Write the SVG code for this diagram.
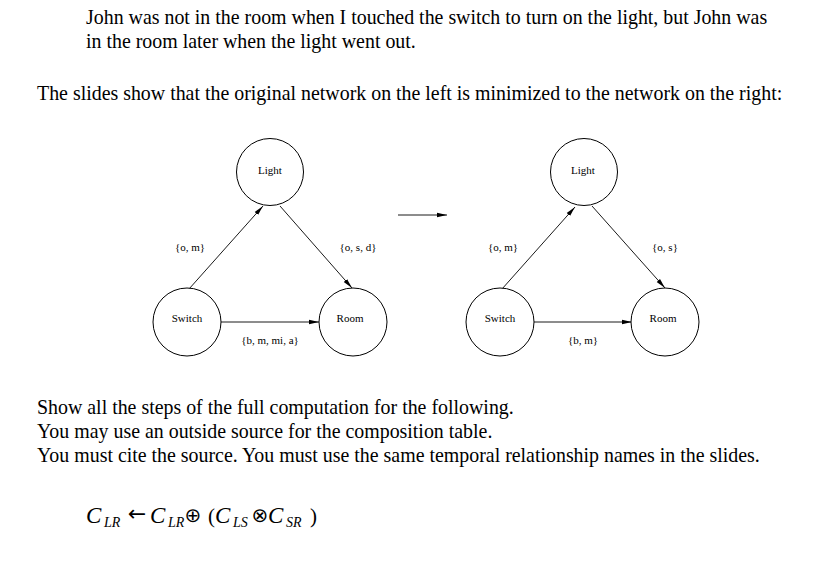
<svg xmlns="http://www.w3.org/2000/svg" width="816" height="575" viewBox="0 0 816 575">
<style>
.t{font-family:"Liberation Serif","Times New Roman",serif;font-size:19.9px;fill:#000}
.n{font-family:"Liberation Serif","Times New Roman",serif;font-size:11px;fill:#000;text-anchor:middle}
.c{fill:#fff;stroke:#000;stroke-width:1}
.e{stroke:#000;stroke-width:0.9;fill:none;marker-end:url(#ah)}
.m{font-family:"Liberation Serif","Times New Roman",serif;font-style:italic;font-size:23px;fill:#000}
.p{font-family:"Liberation Serif","Times New Roman",serif;font-size:21px;fill:#000}
.s{font-family:"Liberation Serif","Times New Roman",serif;font-style:italic;font-size:14px;fill:#000}
.o{font-family:"DejaVu Sans",sans-serif;fill:#000;text-anchor:middle}
</style>
<defs>
<marker id="ah" viewBox="0 0 10 6" refX="10" refY="3" markerWidth="10" markerHeight="6" markerUnits="userSpaceOnUse" orient="auto">
<path d="M0,0.8 L10,3 L0,5.2 Z" fill="#000"/>
</marker>
</defs>
<rect width="816" height="575" fill="#fff"/>
<text class="t" x="86" y="24">John was not in the room when I touched the switch to turn on the light, but John was</text>
<text class="t" x="86" y="48">in the room later when the light went out.</text>
<text class="t" x="37" y="100">The slides show that the original network on the left is minimized to the network on the right:</text>

<g id="edges">
<line class="e" x1="189" y1="289" x2="263" y2="206"/>
<line class="e" x1="280" y1="206" x2="352" y2="288"/>
<line class="e" x1="221" y1="322" x2="319" y2="322"/>
<line class="e" x1="398" y1="215" x2="447" y2="215"/>
<line class="e" x1="502" y1="289" x2="575" y2="207"/>
<line class="e" x1="592" y1="206" x2="665" y2="288"/>
<line class="e" x1="534" y1="322" x2="632" y2="322"/>
</g>
<g id="edge-labels">
<text class="n" x="190" y="251">{o, m}</text>
<text class="n" x="358" y="251">{o, s, d}</text>
<text class="n" x="270" y="344">{b, m, mi, a}</text>
<text class="n" x="503" y="251">{o, m}</text>
<text class="n" x="665" y="251">{o, s}</text>
<text class="n" x="583" y="344">{b, m}</text>
</g>

<g id="L-light"><circle class="c" cx="270" cy="172" r="33.5"/><text class="n" x="270" y="174">Light</text></g>
<g id="L-switch"><circle class="c" cx="187" cy="322" r="34"/><text class="n" x="187" y="322">Switch</text></g>
<g id="L-room"><circle class="c" cx="353" cy="322" r="34"/><text class="n" x="350" y="322">Room</text></g>
<g id="R-light"><circle class="c" cx="584" cy="172" r="33.5"/><text class="n" x="583" y="174">Light</text></g>
<g id="R-switch"><circle class="c" cx="500" cy="322" r="34"/><text class="n" x="500" y="322">Switch</text></g>
<g id="R-room"><circle class="c" cx="665" cy="322" r="34"/><text class="n" x="663" y="322">Room</text></g>

<text class="t" x="37" y="414">Show all the steps of the full computation for the following.</text>
<text class="t" x="37" y="438">You may use an outside source for the composition table.</text>
<text class="t" x="37" y="462">You must cite the source. You must use the same temporal relationship names in the slides.</text>

<g id="formula">
<text class="m" x="86" y="523">C</text><text class="s" x="104" y="527">LR</text>
<text class="o" x="137" y="521" font-size="22">←</text>
<text class="m" x="150" y="523">C</text><text class="s" x="168" y="527">LR</text>
<text class="o" x="193" y="522" font-size="20">⊕</text>
<text class="p" x="208" y="523">(</text>
<text class="m" x="215" y="523">C</text><text class="s" x="233" y="527">LS</text>
<text class="o" x="260" y="522" font-size="20">⊗</text>
<text class="m" x="268" y="523">C</text><text class="s" x="286" y="527">SR</text>
<text class="p" x="310" y="523">)</text>
</g>
</svg>
